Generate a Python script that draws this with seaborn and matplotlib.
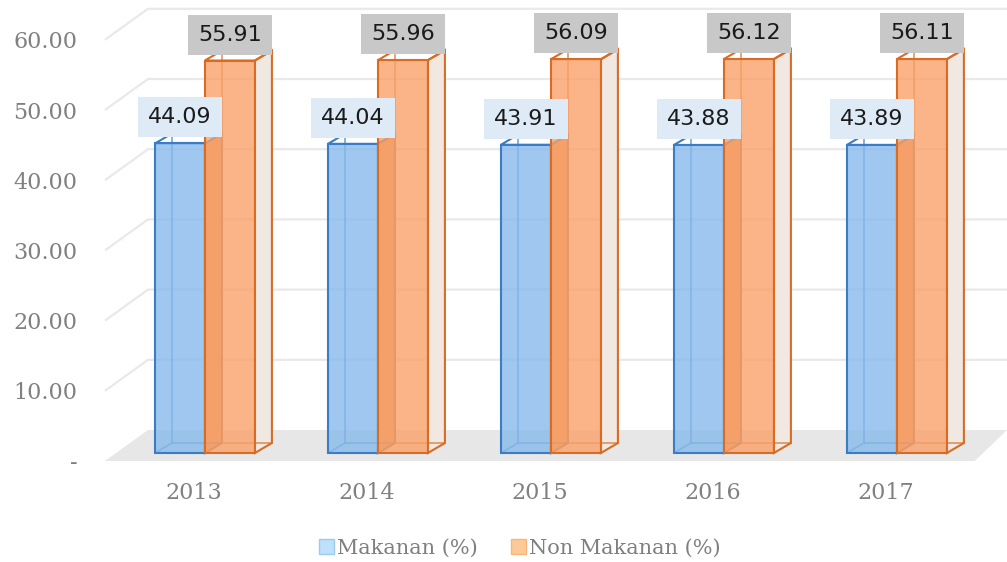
import numpy as np
import pandas as pd
import seaborn as sns
import matplotlib.pyplot as plt
from matplotlib.patches import Polygon, Patch

years = ["2013", "2014", "2015", "2016", "2017"]
makanan = [44.09, 44.04, 43.91, 43.88, 43.89]
non_makanan = [55.91, 55.96, 56.09, 56.12, 56.11]
series = ["Makanan (%)", "Non Makanan (%)"]
ytick_vals = [0, 10, 20, 30, 40, 50, 60]
ytick_labels = ["-", "10.00", "20.00", "30.00", "40.00", "50.00", "60.00"]

df = pd.DataFrame({
    "Tahun": years * 2,
    "Nilai": makanan + non_makanan,
    "Kelompok": [series[0]] * len(years) + [series[1]] * len(years),
})

sns.set_style("white")
plt.rcParams['font.family'] = ['DejaVu Serif']

face_colors = [(0.53, 0.73, 0.925, 0.8), (0.976, 0.63, 0.41, 0.8)]
edge_colors = ['#3b7dc4', '#d86c24']
side_colors = ['#eaa06c', '#f2e8e2']
label_bg = ['#deebf7', '#c8c8c8']

fig = plt.figure(figsize=(10.07, 5.62), dpi=100)
ax = fig.add_axes([105 / 1007, 101 / 562, 902 / 1007, 461 / 562])

sns.barplot(data=df, x="Tahun", y="Nilai", hue="Kelompok", palette=face_colors,
            width=0.578, saturation=1, legend=False, ax=ax)

ax.set_xlim(-0.514, 4.70)
ax.set_ylim(0, 65.67)
for s in ax.spines.values():
    s.set_visible(False)

# px per data unit
xl, xr = ax.get_xlim()
yb, yt = ax.get_ylim()
kx = ax.bbox.width / (xr - xl)
ky = ax.bbox.height / (yt - yb)

# back wall + floor
wall_dx, wall_dy = 43 / kx, 31 / ky
floor_right = len(years) - 1 + 0.514
ax.add_patch(Polygon([(xl, 0), (floor_right, 0), (xr, wall_dy), (xl + wall_dx, wall_dy)],
                     closed=True, facecolor='#e7e7e7', edgecolor='none', zorder=1, clip_on=False))
for v in ytick_vals[1:]:
    ax.plot([xl, xl + wall_dx, xr], [v, v + wall_dy, v + wall_dy], color='#e9e9e9',
            lw=1.6, zorder=0, clip_on=False, solid_capstyle='butt')

# fake 3d boxes
bar_dx, bar_dy = 11 / kx, 8 / ky
dep_x, dep_y = 17 / kx, 10 / ky
for i, (cont, vals) in enumerate(zip(ax.containers, [makanan, non_makanan])):
    edge = edge_colors[i]
    z = 2 + 2 * i
    for rect, v in zip(cont, vals):
        rect.set_x(rect.get_x() + bar_dx)
        rect.set_y(bar_dy)
        rect.set_edgecolor(edge)
        rect.set_linewidth(1.5)
        rect.set_zorder(z + 1)
        x0 = rect.get_x()
        x1 = x0 + rect.get_width()
        y0 = bar_dy
        y1 = bar_dy + rect.get_height()
        ax.add_patch(Polygon([(x1, y0), (x1, y1), (x1 + dep_x, y1 + dep_y), (x1 + dep_x, y0 + dep_y)],
                             closed=True, facecolor=side_colors[i], edgecolor=edge, lw=1.5, zorder=z))
        ax.add_patch(Polygon([(x0, y1), (x1, y1), (x1 + dep_x, y1 + dep_y), (x0 + dep_x, y1 + dep_y)],
                             closed=True, facecolor='none', edgecolor=edge, lw=1.5, zorder=z))
        ax.plot([x0 + dep_x] * 2, [y0 + dep_y, y1 + dep_y], color=edge, lw=1.2, alpha=0.7, zorder=z)
        ax.plot([x0, x0 + dep_x, x1 + dep_x], [y0, y0 + dep_y, y0 + dep_y],
                color=edge, lw=1.2, alpha=0.7, zorder=z)
        ax.text((x0 + x1) / 2, y1 + 26 / ky, f"{v:.2f}", ha='center', va='center',
                fontsize=16, family='DejaVu Sans', color='#1a1a1a', zorder=10,
                bbox=dict(boxstyle='square,pad=0.45', fc=label_bg[i], ec='none'))

ax.set_yticks(ytick_vals, ytick_labels)
ax.tick_params(axis='y', length=0, pad=20, labelsize=16, labelcolor='#808080')
ax.tick_params(axis='x', length=0, pad=15, labelsize=16, labelcolor='#808080')
ax.set_xlabel('')
ax.set_ylabel('')

handles = [Patch(facecolor='#bfe0fb', edgecolor='#9dcbf0', label=series[0]),
           Patch(facecolor='#fdc996', edgecolor='#f7b77c', label=series[1])]
fig.legend(handles=handles, loc='center', bbox_to_anchor=(520 / 1007, 1 - 548 / 562), ncol=2,
           frameon=False, fontsize=15, handlelength=0.7, handleheight=0.7,
           handletextpad=0.15, columnspacing=1.6, labelcolor='#7f7f7f')

fig.savefig('out.png', dpi=100)
